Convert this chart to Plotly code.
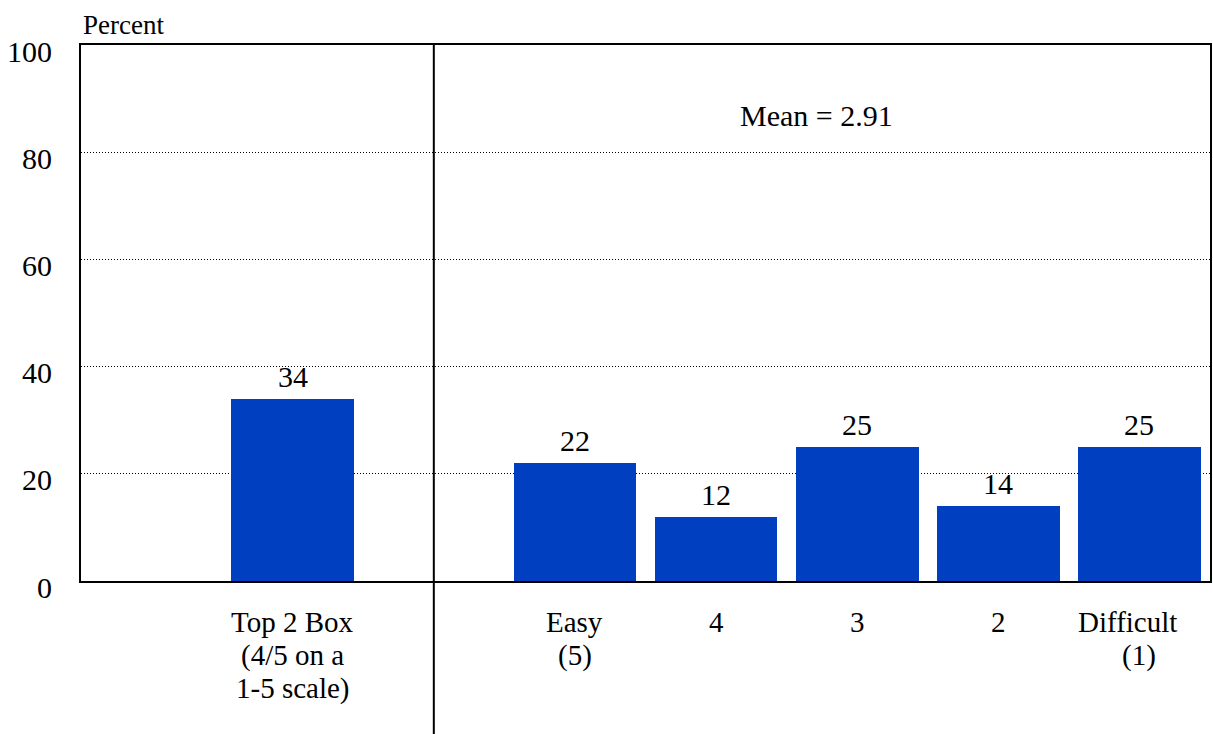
import plotly.graph_objects as go

# ---- data ----
categories = ["Top 2 Box", "Easy (5)", "4", "3", "2", "Difficult (1)"]
values = [34, 22, 12, 25, 14, 25]
slot_index = [1, 3, 4, 5, 6, 7]          # slot of each bar on the 0-8 axis
label_lines = [
    ["Top 2 Box", "(4/5 on a", "1-5 scale)"],
    ["Easy", "(5)"],
    ["4"],
    ["3"],
    ["2"],
    ["Difficult", "(1)"],
]
mean_value = 2.91
y_ticks = [0, 20, 40, 60, 80, 100]
divider_slot = 2.5
x_range = [0, 8]

# ---- style ----
FONT = "Liberation Serif"
BAR_COLOR = "#0040C0"
line_xshift = {"Difficult": -12}

x_pos = [i + 0.5 for i in slot_index]

fig = go.Figure()
fig.add_trace(go.Bar(
    x=x_pos, y=values, width=0.87,
    marker=dict(color=BAR_COLOR, line=dict(width=0)),
    hoverinfo="skip",
))

annotations = []
# value labels above bars
for xp, v in zip(x_pos, values):
    annotations.append(dict(
        x=xp, xref="x", y=v, yref="y", text=str(v), showarrow=False,
        xanchor="center", yanchor="bottom", yshift=4,
        font=dict(family=FONT, size=30, color="black"),
    ))

line_pitch = 33
for xp, lines in zip(x_pos, label_lines):
    for k, ln in enumerate(lines):
        annotations.append(dict(
            x=xp, xref="x", y=0, yref="paper",
            text=ln, showarrow=False, xanchor="center", yanchor="top",
            yshift=-23 - k * line_pitch, xshift=line_xshift.get(ln, 0),
            font=dict(family=FONT, size=29, color="black"),
        ))

annotations.append(dict(
    x=5.21, xref="x", y=86.9, yref="y", text=f"Mean = {mean_value:.2f}",
    showarrow=False, xanchor="center", yanchor="middle",
    font=dict(family=FONT, size=30, color="black"),
))
annotations.append(dict(
    x=0, xref="paper", y=1, yref="paper", text="Percent",
    showarrow=False, xanchor="left", yanchor="bottom", yshift=3,
    font=dict(family=FONT, size=27, color="black"),
))

div_paper = (divider_slot - x_range[0]) / (x_range[1] - x_range[0])
fig.add_shape(type="line", xref="paper", yref="paper",
              x0=div_paper, x1=div_paper, y0=-0.3, y1=1,
              line=dict(color="black", width=2), layer="above")

fig.update_layout(
    width=1213, height=734,
    margin=dict(l=81, r=1, t=45, b=153),
    paper_bgcolor="white", plot_bgcolor="white",
    showlegend=False,
    font=dict(family=FONT, color="black"),
    annotations=annotations,
    bargap=0,
    xaxis=dict(range=x_range, showticklabels=False, ticks="",
               showgrid=False, zeroline=False,
               showline=True, linecolor="black", linewidth=2, mirror=True),
    yaxis=dict(range=[0, 100], tickvals=y_ticks, ticks="",
               ticklabelstandoff=21, ticklabelshift=6,
               tickfont=dict(family=FONT, size=30, color="black"),
               showgrid=True, gridcolor="black", gridwidth=1, griddash="1px,2px",
               zeroline=False,
               showline=True, linecolor="black", linewidth=2, mirror=True),
)

fig.write_html("out.html")
